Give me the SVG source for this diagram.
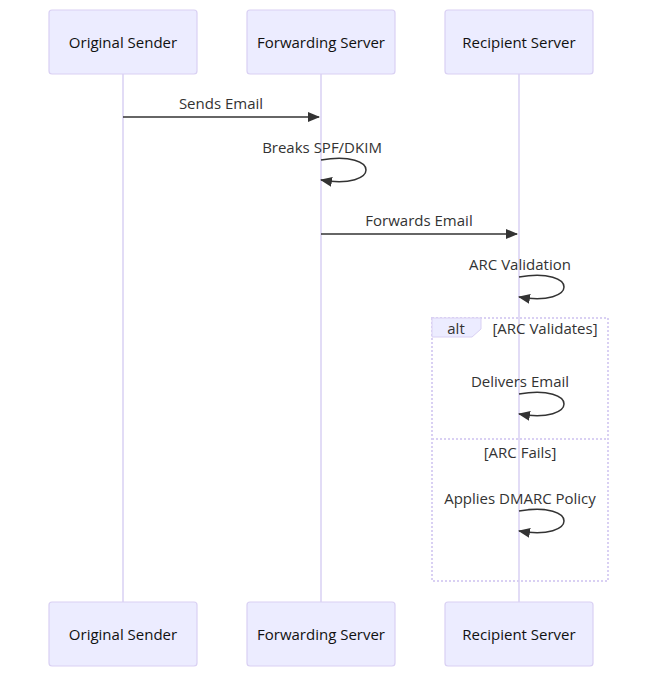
<svg xmlns="http://www.w3.org/2000/svg" width="666" height="685" viewBox="0 0 666 685">
<defs>
<style>
.actor{fill:#ECECFF;stroke:#d9d0f3;stroke-width:1.2}
.atext{font-family:"Open Sans","DejaVu Sans",sans-serif;font-size:15px;fill:#111;text-anchor:middle;dominant-baseline:central}
.life{stroke:#d9d0f3;stroke-width:1.5}
.msg{stroke:#333;stroke-width:1.5;fill:none}
.mtext{font-family:"Open Sans","DejaVu Sans",sans-serif;font-size:15px;fill:#333;text-anchor:middle;dominant-baseline:central}
.frame{fill:none;stroke:#d9d0f3;stroke-width:2;stroke-dasharray:2 2}
</style>
<marker id="arrow" viewBox="0 0 12 10" refX="11" refY="5" markerWidth="12" markerHeight="10" markerUnits="userSpaceOnUse" orient="auto">
<path d="M0,0 L12,5 L0,10 z" fill="#333"/>
</marker>
</defs>
<rect width="666" height="685" fill="#fff"/>
<g id="lifelines">
<line class="life" x1="123" y1="74" x2="123" y2="602"/>
<line class="life" x1="321" y1="74" x2="321" y2="602"/>
<line class="life" x1="519" y1="74" x2="519" y2="602"/>
</g>
<g id="alt-frame">
<rect class="frame" x="432" y="318" width="176" height="263"/>
<polygon points="432,318 481,318 481,329 472,337 432,337" fill="#ECECFF" stroke="#d9d0f3" stroke-width="1"/>
<text class="mtext" x="456" y="328">alt</text>
<text class="mtext" x="545" y="328">[ARC Validates]</text>
<line class="frame" x1="432" y1="439" x2="608" y2="439"/>
<text class="mtext" x="520" y="452">[ARC Fails]</text>
</g>
<g id="actor-sender-top"><rect class="actor" x="49" y="10" width="148" height="64" rx="3"/><text class="atext" x="123" y="42">Original Sender</text></g>
<g id="actor-forwarder-top"><rect class="actor" x="247" y="10" width="148" height="64" rx="3"/><text class="atext" x="321" y="42">Forwarding Server</text></g>
<g id="actor-recipient-top"><rect class="actor" x="445" y="10" width="148" height="64" rx="3"/><text class="atext" x="519" y="42">Recipient Server</text></g>
<g id="actor-sender-bottom"><rect class="actor" x="49" y="602" width="148" height="64" rx="3"/><text class="atext" x="123" y="634">Original Sender</text></g>
<g id="actor-forwarder-bottom"><rect class="actor" x="247" y="602" width="148" height="64" rx="3"/><text class="atext" x="321" y="634">Forwarding Server</text></g>
<g id="actor-recipient-bottom"><rect class="actor" x="445" y="602" width="148" height="64" rx="3"/><text class="atext" x="519" y="634">Recipient Server</text></g>
<g id="connectors">
<text class="mtext" x="221" y="103">Sends Email</text>
<line class="msg" x1="123" y1="117" x2="319" y2="117" marker-end="url(#arrow)"/>
<text class="mtext" x="322" y="147">Breaks SPF/DKIM</text>
<path class="msg" d="M321,160 C381,150 381,190 321,180" marker-end="url(#arrow)"/>
<text class="mtext" x="419" y="220">Forwards Email</text>
<line class="msg" x1="321" y1="234" x2="517" y2="234" marker-end="url(#arrow)"/>
<text class="mtext" x="520" y="264">ARC Validation</text>
<path class="msg" d="M519,277 C579,267 579,307 519,297" marker-end="url(#arrow)"/>
<text class="mtext" x="520" y="381">Delivers Email</text>
<path class="msg" d="M519,394 C579,384 579,424 519,414" marker-end="url(#arrow)"/>
<text class="mtext" x="520" y="498">Applies DMARC Policy</text>
<path class="msg" d="M519,511 C579,501 579,541 519,531" marker-end="url(#arrow)"/>
</g>
</svg>
